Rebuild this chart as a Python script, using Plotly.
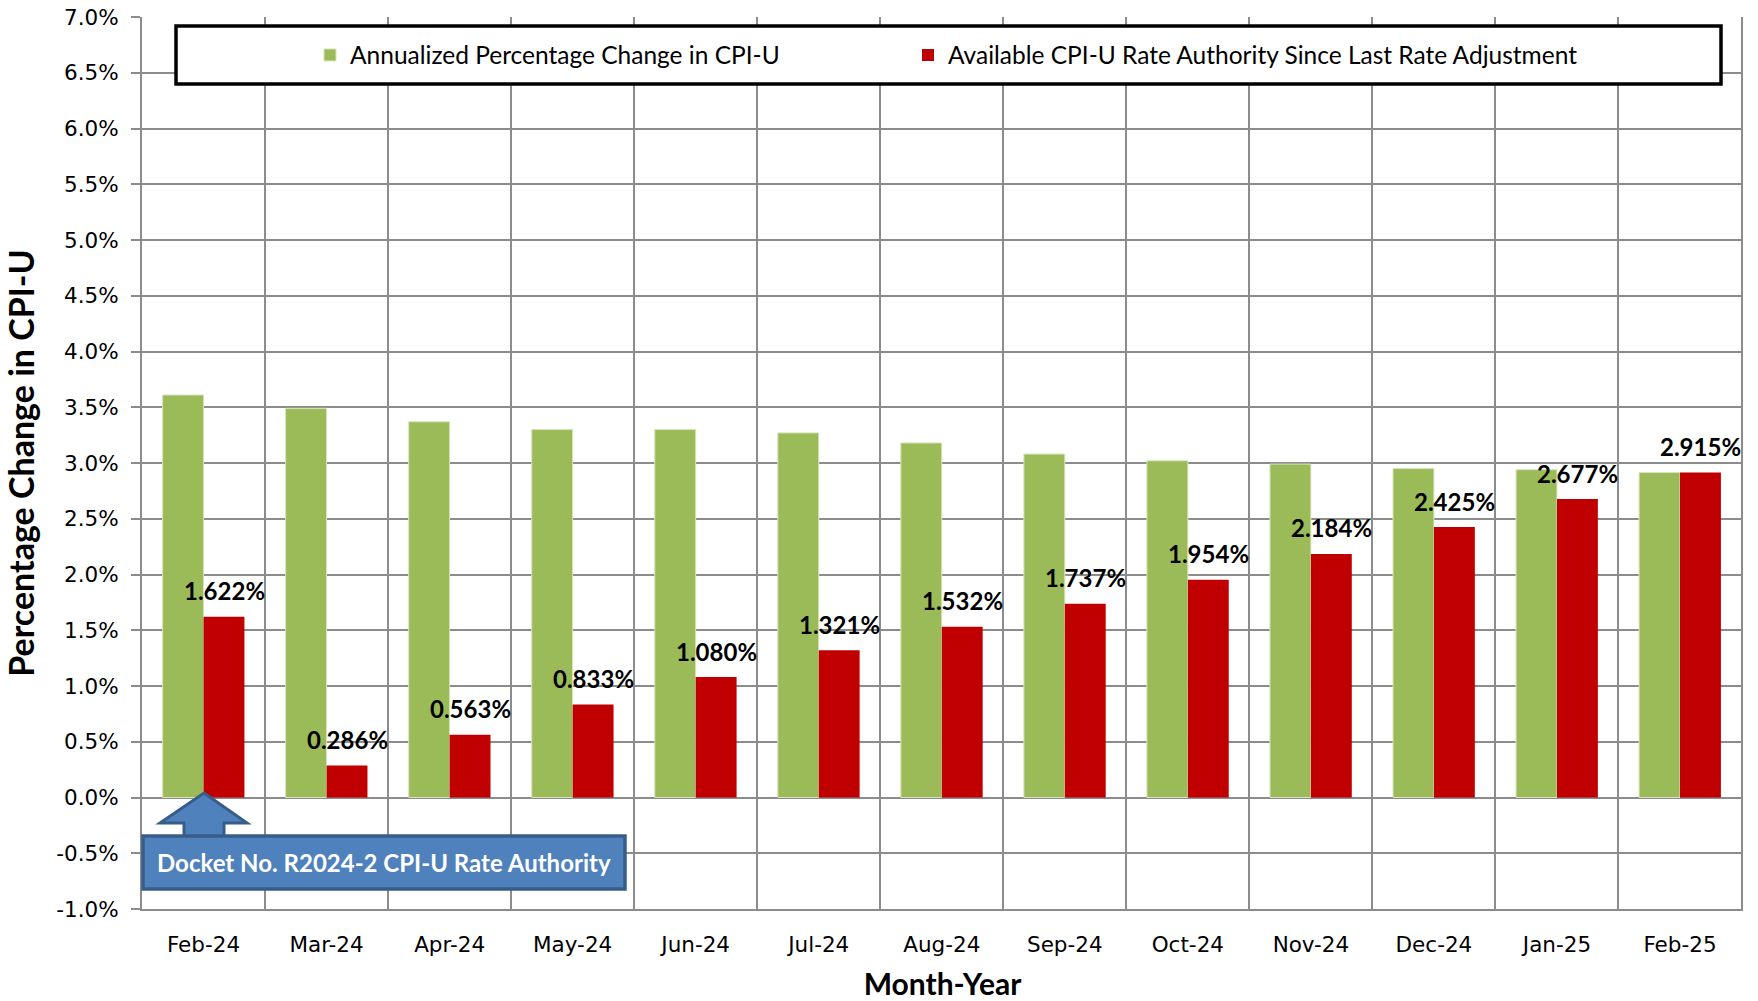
import plotly.graph_objects as go

months = ["Feb-24", "Mar-24", "Apr-24", "May-24", "Jun-24", "Jul-24", "Aug-24",
          "Sep-24", "Oct-24", "Nov-24", "Dec-24", "Jan-25", "Feb-25"]
annualized = [3.61, 3.49, 3.37, 3.30, 3.30, 3.27, 3.18, 3.08, 3.02, 2.99, 2.95, 2.94, 2.915]
available = [1.622, 0.286, 0.563, 0.833, 1.080, 1.321, 1.532, 1.737, 1.954, 2.184, 2.425, 2.677, 2.915]
available_labels = [f"{v:.3f}%" for v in available]
y_ticks = [-1.0, -0.5, 0.0, 0.5, 1.0, 1.5, 2.0, 2.5, 3.0, 3.5, 4.0, 4.5, 5.0, 5.5, 6.0, 6.5, 7.0]
y_tick_labels = [f"{v:.1f}%" for v in y_ticks]

GREEN = "#9BBB59"
RED = "#C00000"
GRID = "#8C8C8C"

W, H = 1758, 1001
PL, PR, PT, PB = 142, 1743, 17, 909
PW, PH = PR - PL, PB - PT


def px(x):
    return (x - PL) / PW


def py(y):
    return (PB - y) / PH


fig = go.Figure()
fig.add_trace(go.Bar(
    x=months, y=annualized, name="Annualized Percentage Change in CPI-U",
    marker=dict(color=GREEN, line=dict(color="#D7E4BD", width=1)),
    legend="legend",
))
fig.add_trace(go.Bar(
    x=months, y=available, name="Available CPI-U Rate Authority Since Last Rate Adjustment",
    marker=dict(color=RED, line=dict(width=0)),
    legend="legend2",
))

# data labels above red bars
for m, v, lab in zip(months, available, available_labels):
    fig.add_annotation(
        x=m, y=v, xref="x", yref="y", text=f"<b>{lab}</b>", showarrow=False,
        xshift=20.5, yshift=26, yanchor="middle", xanchor="center",
        font=dict(family="Lato", size=24, color="#000000"),
    )

shapes = []
# legend box
shapes.append(dict(type="rect", xref="paper", yref="paper",
                   x0=px(176), x1=px(1721), y0=py(84), y1=py(26),
                   line=dict(color="#000000", width=3.5), fillcolor="#FFFFFF", layer="above"))
# arrow
path = (f"M {px(204)},{py(793)} L {px(247)},{py(823)} L {px(224)},{py(823)} "
        f"L {px(224)},{py(838)} L {px(184)},{py(838)} L {px(184)},{py(823)} "
        f"L {px(160)},{py(823)} Z")
shapes.append(dict(type="path", xref="paper", yref="paper", path=path,
                   fillcolor="#4F81BD", line=dict(color="#385D8A", width=3), layer="above"))
# docket box
shapes.append(dict(type="rect", xref="paper", yref="paper",
                   x0=px(143), x1=px(625), y0=py(889), y1=py(836),
                   fillcolor="#4F81BD", line=dict(color="#385D8A", width=3.5), layer="above"))
fig.add_annotation(
    x=px(384), y=py(862), xref="paper", yref="paper", showarrow=False,
    text="<b>Docket No. R2024-2 CPI-U Rate Authority</b>",
    font=dict(family="Lato", size=24, color="#FFFFFF"), xanchor="center", yanchor="middle",
)

legend_font = dict(family="Lato", size=24.5, color="#000000")
fig.update_layout(
    width=W, height=H,
    margin=dict(l=PL, r=W - PR, t=PT, b=H - PB, autoexpand=False),
    plot_bgcolor="#FFFFFF", paper_bgcolor="#FFFFFF",
    barmode="group", bargap=0.335, bargroupgap=0,
    showlegend=True,
    shapes=shapes,
    legend=dict(orientation="h", x=px(310), y=py(55), xanchor="left", yanchor="middle",
                font=legend_font, bgcolor="rgba(0,0,0,0)", borderwidth=0, visible=True),
    legend2=dict(orientation="h", x=px(908), y=py(55), xanchor="left", yanchor="middle",
                 font=legend_font, bgcolor="rgba(0,0,0,0)", borderwidth=0, visible=True),
    xaxis=dict(
        type="category", tickson="boundaries", showgrid=True, gridcolor=GRID, gridwidth=2,
        ticks="", ticklabelstandoff=15, showline=True, linecolor=GRID, linewidth=2, mirror=False,
        tickfont=dict(family="DejaVu Sans", size=21.5, color="#000000"),
        title=dict(text="<b>Month-Year</b>", font=dict(family="Lato", size=30, color="#000000"),
                   standoff=18),
    ),
    yaxis=dict(
        range=[-1, 7], tickvals=y_ticks, ticktext=y_tick_labels,
        showgrid=True, gridcolor=GRID, gridwidth=2, zeroline=False,
        ticks="outside", ticklen=9, tickcolor=GRID, tickwidth=2, ticklabelstandoff=8,
        showline=True, linecolor=GRID, linewidth=2,
        tickfont=dict(family="DejaVu Sans", size=21.5, color="#000000"),
        title=dict(text="<b>Percentage Change in CPI-U</b>",
                   font=dict(family="Lato", size=34, color="#000000"), standoff=18),
    ),
)

fig.write_html("out.html", config={"displayModeBar": False},
               post_script="document.body.style.margin='0';document.body.style.overflow='hidden';")
